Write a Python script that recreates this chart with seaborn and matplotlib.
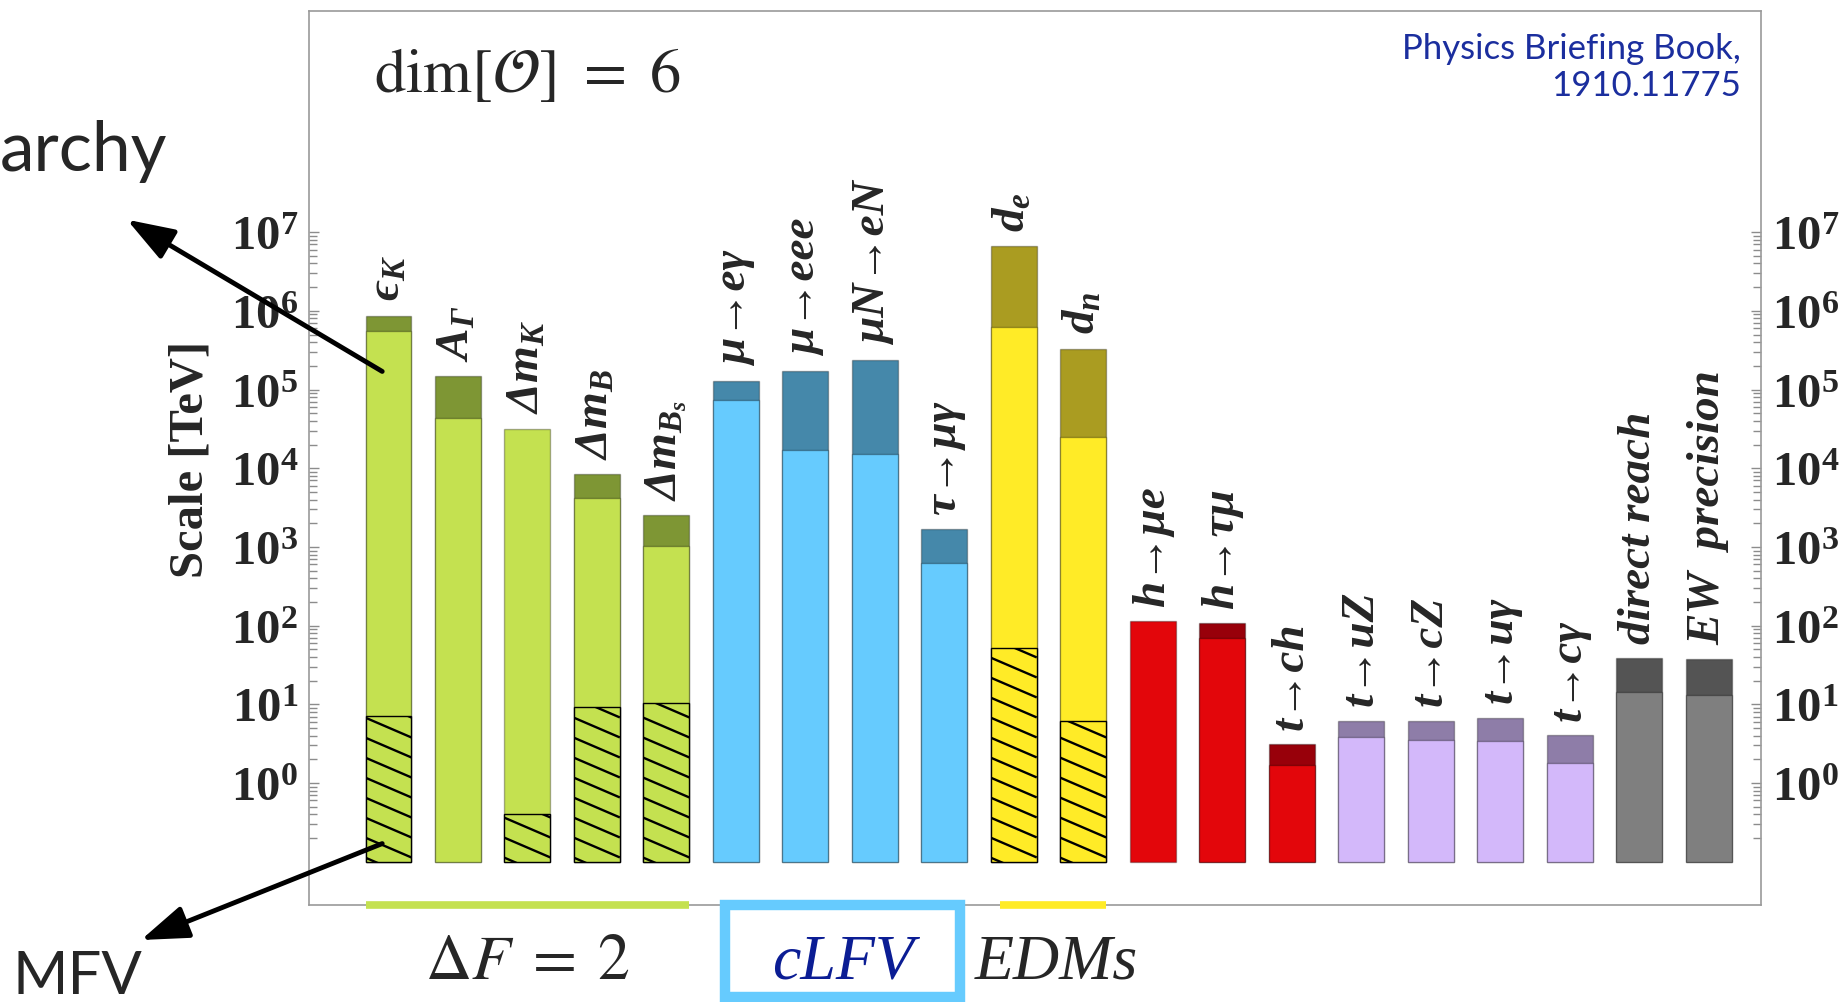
import numpy as np
import pandas as pd
import seaborn as sns
import matplotlib.pyplot as plt
from matplotlib.collections import LineCollection
from matplotlib.patches import Rectangle
from matplotlib.lines import Line2D
from matplotlib.transforms import blended_transform_factory, IdentityTransform
from matplotlib.ticker import FixedLocator, NullFormatter, LogFormatterSciNotation

# bar labels (also the categories), left to right
labels = [r"$\mathdefault{ϵ_K}$", r"$\mathdefault{A_Γ}$", r"$\mathdefault{Δm_K}$",
          r"$\mathdefault{Δm_B}$", r"$\mathdefault{Δm_{B_s}}$",
          "μ→eγ", "μ→eee", "μN→eN", "τ→μγ",
          r"$\mathdefault{d_e}$", r"$\mathdefault{d_n}$",
          "h→μe", "h→τμ", "t→ch",
          "t→uZ", "t→cZ", "t→uγ", "t→cγ",
          "direct reach", "EW  precision"]
groups = ["dF2"] * 5 + ["clfv"] * 4 + ["edm"] * 2 + ["higgs"] * 3 + ["top"] * 4 + ["ew"] * 2

# scales in TeV
light_top = [5.5e5, 4.3e4, 3.2e4, 4.2e3, 1.04e3,
             7.3e4, 1.7e4, 1.5e4, 630,
             6.3e5, 2.5e4,
             115, 70, 1.7,
             3.9, 3.5, 3.4, 1.8,
             14.4, 13.2]
dark_top = [8.7e5, 1.47e5, np.nan, 8.5e3, 2.56e3,
            1.3e5, 1.74e5, 2.4e5, 1.7e3,
            6.7e6, 3.3e5,
            np.nan, 107, 3.1,
            6.2, 6.2, 6.8, 4.1,
            38.6, 37.8]
mfv_top = [7.2, np.nan, 0.41, 9.3, 10.3,
           np.nan, np.nan, np.nan, np.nan,
           52, 6.2,
           np.nan, np.nan, np.nan,
           np.nan, np.nan, np.nan, np.nan,
           np.nan, np.nan]
BASE = 0.1

light_colors = {"dF2": "#C4E150", "clfv": "#66CBFE", "edm": "#FFEB27",
                "higgs": "#E3060B", "top": "#D3B8FA", "ew": "#7F7F7F"}
dark_colors = {"dF2": "#7E9634", "clfv": "#4588AA", "edm": "#AA9C21",
               "higgs": "#98000A", "top": "#8E7DA8", "ew": "#545454"}

df = pd.DataFrame({"label": labels, "group": groups,
                   "light": light_top, "dark": dark_top, "mfv": mfv_top})

sns.set_style("white")
plt.rcParams["font.family"] = ["Liberation Serif", "DejaVu Serif"]

fig = plt.figure(figsize=(18.45, 10.03), dpi=100)
ax = fig.add_axes([0.1675, 0.0967, 0.787, 0.8913])
ax.set_yscale("log")

# overlapping layers from the same base: dark (full reach), light, hatched MFV
hatch_patches = []
for col, pal, ec in [("dark", dark_colors, (0, 0, 0, 0.3)),
                     ("light", light_colors, (0, 0, 0, 0.3)),
                     ("mfv", light_colors, "black")]:
    sub = df.dropna(subset=[col]).copy()
    sub["height"] = sub[col] - BASE
    n0 = len(ax.patches)
    sns.barplot(data=sub, x="label", y="height", hue="label", order=labels,
                palette={l: pal[g] for l, g in zip(sub["label"], sub["group"])},
                width=0.66, dodge=False, legend=False, saturation=1, errorbar=None,
                bottom=BASE, edgecolor=ec, linewidth=1.0, ax=ax)
    if col == "mfv":
        hatch_patches = list(ax.patches[n0:])

ax.set_xlim(-1.143, 19.754)
ax.set_ylim(10 ** -1.55, 10 ** 9.81)
ax.set_xticks([])
ax.set_xlabel("")
ax.set_ylabel("")
ax.yaxis.set_major_locator(FixedLocator(10.0 ** np.arange(0, 8)))
ax.yaxis.set_minor_locator(FixedLocator([m * 10.0 ** k for k in range(-1, 7) for m in range(2, 10)]))
ax.yaxis.set_major_formatter(LogFormatterSciNotation())
ax.yaxis.set_minor_formatter(NullFormatter())
ax.tick_params(axis="y", which="both", direction="in", left=True, right=True,
               labelleft=True, labelright=True, color="#8c8c8c", labelsize=35)
ax.tick_params(axis="y", which="major", length=7, width=1, pad=8)
ax.tick_params(axis="y", which="minor", length=6, width=1)
plt.setp(ax.yaxis.get_majorticklabels(), fontweight="bold")
for s in ax.spines.values():
    s.set_color("#9a9a9a")
    s.set_linewidth(1.2)

# shallow diagonal hatching on the MFV part
for p in hatch_patches:
    bb = p.get_window_extent()
    slope, step = 0.43, 20
    w = bb.x1 - bb.x0
    segs = [[(bb.x0, c), (bb.x1, c - slope * w)]
            for c in np.arange(bb.y0 + 4, bb.y1 + slope * w + step, step)]
    lc = LineCollection(segs, colors="black", linewidths=1.7,
                        transform=IdentityTransform(), zorder=2)
    ax.add_collection(lc, autolim=False)
    lc.set_clip_path(p.get_path(), p.get_transform())

# labels above bars
tops = df[["light", "dark"]].max(axis=1)
for i, (lab, top) in enumerate(zip(labels, tops)):
    ax.annotate(lab, xy=(i, top), xytext=(0, 11), textcoords="offset points",
                rotation=90, ha="center", va="bottom", fontsize=34,
                fontstyle="italic", fontweight="bold")

# group markers under the frame
fig_x = blended_transform_factory(ax.transData, fig.transFigure)
ax_x = blended_transform_factory(ax.transData, ax.transAxes)
idx = np.arange(len(labels))
g = np.array(groups)
green_span = (idx[g == "dF2"].min() - 0.33, idx[g == "dF2"].max() + 0.33)
edm_span = (idx[g == "edm"].min() - 0.2, idx[g == "edm"].max() + 0.33)
clfv_mid = idx[g == "clfv"].mean() + 0.04
fig.add_artist(Line2D(green_span, [0, 0], transform=ax_x, color=light_colors["dF2"],
                      lw=5.5, solid_capstyle="butt", clip_on=False))
fig.add_artist(Line2D(edm_span, [0, 0], transform=ax_x, color=light_colors["edm"],
                      lw=5.5, solid_capstyle="butt", clip_on=False))
fig.add_artist(Rectangle((clfv_mid - 1.69, 0.005), 3.38, 0.0917, transform=fig_x,
                         fill=False, edgecolor=light_colors["clfv"], lw=7.5, clip_on=False))
ax.text(np.mean(green_span), 0.024, r"$\Delta F\;=\;2$", transform=fig_x, ha="center",
        va="baseline", fontsize=46, math_fontfamily="stix")
ax.text(clfv_mid, 0.024, "cLFV", transform=fig_x, ha="center", va="baseline",
        fontsize=46, fontstyle="italic", color="#0B1D94")
ax.text(np.mean(edm_span) + 0.05, 0.024, "EDMs", transform=fig_x, ha="center",
        va="baseline", fontsize=46, fontstyle="italic")

# texts around the frame
fig.text(0.1035, 0.5424, "Scale [TeV]", rotation=90, ha="center", va="center",
         fontsize=35, fontweight="bold")
fig.text(0.2027, 0.9083, r"$\mathrm{dim}[\mathcal{O}]\ =\ 6$", math_fontfamily="stix",
         fontsize=45, va="baseline")
fig.text(0.9436, 0.967, "Physics Briefing Book,\n1910.11775", ha="right", va="top",
         multialignment="right", family="Lato", fontsize=25,
         color="#1B2E9E", linespacing=1.2)
fig.text(0.0, 0.8295, "archy", family="Lato", fontsize=50, ha="left", va="baseline")
fig.text(0.007, 0.009, "MFV", family="Lato", fontsize=43, ha="left", va="baseline")

arrow_kw = dict(arrowstyle="-|>,head_length=1.0,head_width=0.35", color="black",
                lw=3.5, shrinkA=0, shrinkB=0, mutation_scale=29)
ax.annotate("", xy=(0.0688, 0.78), xycoords="figure fraction",
            xytext=(-0.09, 1.7e5), textcoords="data", arrowprops=arrow_kw,
            annotation_clip=False)
ax.annotate("", xy=(0.0764, 0.0618), xycoords="figure fraction",
            xytext=(-0.09, 0.17), textcoords="data", arrowprops=arrow_kw,
            annotation_clip=False)

fig.savefig("out.png", dpi=100)
